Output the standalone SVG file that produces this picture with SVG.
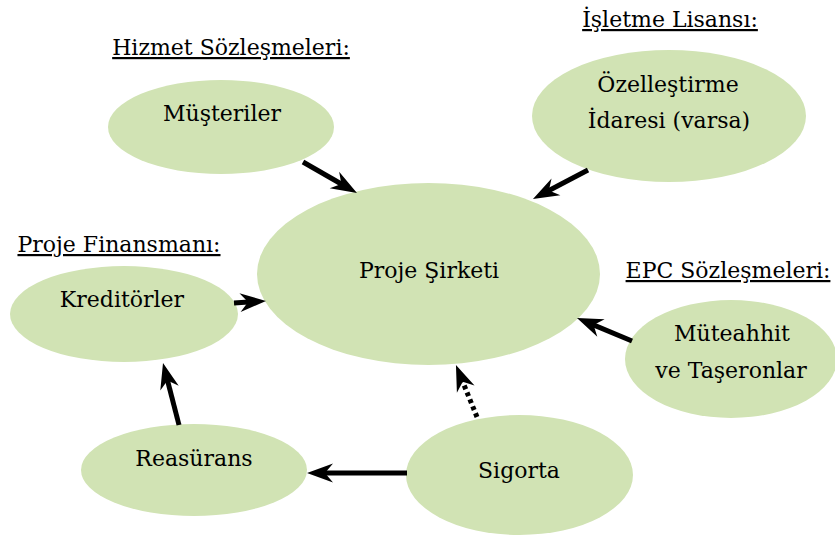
<svg xmlns="http://www.w3.org/2000/svg" width="835" height="538" viewBox="0 0 835 538">
  <style>
    .node ellipse { fill: #d1e3b4; }
    text { font-family: "DejaVu Serif", "Liberation Serif", serif; font-size: 22px; fill: #000; text-anchor: middle; }
    .hdr { text-decoration: underline; }
    .conn { stroke: #000; stroke-width: 5; fill: none; marker-end: url(#arr); }
    .dot { stroke-dasharray: 4 3.5; }
  </style>
  <defs>
    <marker id="arr" markerUnits="userSpaceOnUse" viewBox="-17 -10 28 20" refX="0" refY="0" markerWidth="28" markerHeight="20" orient="auto">
      <path d="M10,0 L-16,-9.5 L-8,0 L-16,9.5 Z" fill="#000"/>
    </marker>
  </defs>

  <g id="labels">
    <text class="hdr" x="231" y="55">Hizmet Sözleşmeleri:</text>
    <text class="hdr" x="670" y="27">İşletme Lisansı:</text>
    <text class="hdr" x="119" y="252">Proje Finansmanı:</text>
    <text class="hdr" x="728" y="278">EPC Sözleşmeleri:</text>
  </g>

  <g id="musteriler" class="node">
    <ellipse cx="221" cy="127" rx="113" ry="47"/>
    <text x="222" y="121">Müşteriler</text>
  </g>
  <g id="ozellestirme" class="node">
    <ellipse cx="669" cy="116" rx="137" ry="66"/>
    <text x="668" y="92">Özelleştirme</text>
    <text x="669" y="128">İdaresi (varsa)</text>
  </g>
  <g id="proje-sirketi" class="node">
    <ellipse cx="428.5" cy="274" rx="171.5" ry="91"/>
    <text x="429" y="278">Proje Şirketi</text>
  </g>
  <g id="kreditorler" class="node">
    <ellipse cx="124" cy="314" rx="114" ry="48"/>
    <text x="122" y="307">Kreditörler</text>
  </g>
  <g id="muteahhit" class="node">
    <ellipse cx="731" cy="359" rx="106" ry="59"/>
    <text x="732" y="341">Müteahhit</text>
    <text x="731" y="378">ve Taşeronlar</text>
  </g>
  <g id="reasurans" class="node">
    <ellipse cx="194" cy="470" rx="113" ry="46"/>
    <text x="194" y="466">Reasürans</text>
  </g>
  <g id="sigorta" class="node">
    <ellipse cx="519.5" cy="475" rx="113.5" ry="60"/>
    <text x="519" y="478">Sigorta</text>
  </g>

  <g id="connectors">
    <path class="conn" d="M303,162 L348.3,188"/>
    <path class="conn" d="M588,170 L541.8,194.3"/>
    <path class="conn" d="M234,303 L256,301.6"/>
    <path class="conn" d="M632,341 L586.2,321.9"/>
    <path class="conn dot" d="M477,417 L459.7,374.3"/>
    <path class="conn" d="M179,425 L165.5,372.7"/>
    <path class="conn" d="M407,473 L317,473"/>
  </g>
</svg>
